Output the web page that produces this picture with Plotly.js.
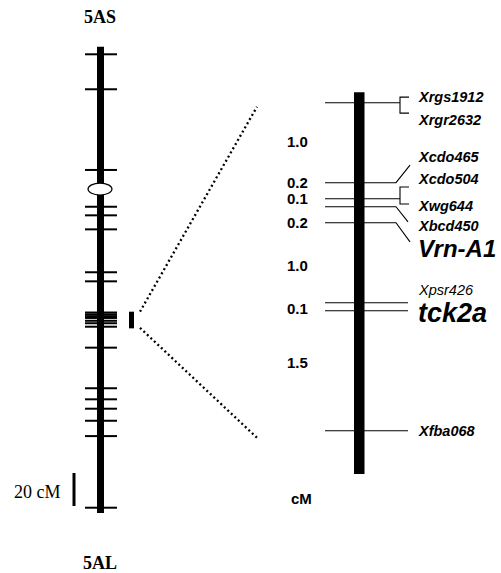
<!DOCTYPE html>
<html><head><meta charset="utf-8">
<script src="https://cdn.plot.ly/plotly-3.0.1.min.js"></script>
<style>html,body{margin:0;padding:0;background:#fff}#chart{width:501px;height:573px}</style>
</head><body><div id="chart"></div>
<script>
// ================= DATA =================
const armLabels = ['5AS', '5AL'];
const leftLength = 282.6;                       // cM, whole 5A map
const leftMarkers = [4.6, 25.8, 74.7, 97.0, 102.2, 110.7, 136.7, 142.2,
  161.1, 162.2, 163.3, 164.4, 166.1, 167.6, 169.7, 182.4,
  207.0, 213.7, 219.4, 226.7, 236.0, 279.4];
const centromere = 86.3;                        // cM
const regionStart = 160.6;                      // cM, enlarged region
const regionEnd = 170.7;
const scaleBarCM = 20;
const scaleBarLabel = '20 cM';

const rightMarkers = ['Xrgs1912', 'Xrgr2632', 'Xcdo465', 'Xcdo504', 'Xwg644',
  'Xbcd450', 'Vrn-A1', 'Xpsr426', 'tck2a', 'Xfba068'];
const rightPos = [0, 0, 1.0, 1.2, 1.2, 1.3, 1.5, 2.5, 2.6, 4.1];   // cM
const intervalLabels = ['1.0', '0.2', '0.1', '0.2', '1.0', '0.1', '1.5'];
const rightStart = -0.13, rightEnd = 4.64;      // cM, drawn extent of bar
const unitLabel = 'cM';

// ================= LAYOUT HELPERS =================
const W = 501, H = 573;
const L0 = 46.7, LS = 1.65;     // left axis: px of 0 cM, px per cM
const R0 = 102.7, RS = 80;      // right axis
const leftRange = [(H - L0) / LS, -L0 / LS];
const rightRange = [(H - R0) / RS, -R0 / RS];
const Lpx = px => (px - L0) / LS;               // pixel -> left axis value
const rightToLeft = r => Lpx(R0 + r * RS);

// label placement (right axis units) and style per marker
const labelY = [-0.07, 0.22, 0.675, 0.95, 1.29, 1.54, 1.82, 2.34, 2.63, 4.1];
const labelSize = [14.5, 14.5, 14.5, 14.5, 14.5, 14.5, 24, 14.5, 27, 14.5];
const labelBold = [1, 1, 1, 1, 1, 1, 1, 0, 1, 1];
const intervalY = [0.48, 1.0, 1.2, 1.5, 2.03, 2.57, 3.25];

// ================= TRACES =================
const lx = [], ly = [];
leftMarkers.forEach(m => { lx.push(85, 117, null); ly.push(m, m, null); });

// right marker lines + connectors
const rx = [], ry = [];
const uniq = [...new Set(rightPos)];
uniq.forEach(p => {
  const idx = rightPos.map((v, i) => v === p ? i : -1).filter(i => i >= 0);
  if (idx.length === 2) {
    const t = p === 0 ? -0.07 : 1.054, bt = p === 0 ? 0.13 : 1.266;
    rx.push(325, 400, null, 409, 400, 400, 409, null);
    ry.push(p, p, null, t, t, bt, bt, null);
  } else {
    const name = rightMarkers[idx[0]];
    if (name === 'Xcdo465') { rx.push(325, 396, 410, null); ry.push(p, p, 0.78, null); }
    else if (name === 'Xbcd450') { rx.push(325, 396, 408, null); ry.push(p, p, 1.49, null); }
    else if (name === 'Vrn-A1') { rx.push(325, 396, 410, null); ry.push(p, p, 1.74, null); }
    else { rx.push(325, 408, null); ry.push(p, p, null); }
  }
});

const dotX = [140, 257, null, 140, 258];
const dotY = [regionStart, rightToLeft(0.05), null, regionEnd - 0.3, rightToLeft(4.2)];

const traces = [
  { x: lx, y: ly, mode: 'lines', line: { color: '#000', width: 2 }, hoverinfo: 'skip', xaxis: 'x', yaxis: 'y' },
  { x: rx, y: ry, mode: 'lines', line: { color: '#000', width: 1.1 }, hoverinfo: 'skip', xaxis: 'x', yaxis: 'y2' },
  { x: dotX, y: dotY, mode: 'lines', line: { color: '#000', width: 2.3, dash: '2px,2.8px' }, hoverinfo: 'skip', xaxis: 'x', yaxis: 'y' }
];

// ================= SHAPES =================
const shapes = [
  { type: 'rect', xref: 'x', yref: 'y', x0: 97, x1: 104, y0: 0, y1: leftLength, fillcolor: '#000', line: { width: 0 } },
  { type: 'circle', xref: 'x', yref: 'y', x0: 88, x1: 112, y0: centromere - 3.6, y1: centromere + 3.6, fillcolor: '#fff', line: { color: '#000', width: 1.2 } },
  { type: 'rect', xref: 'x', yref: 'y', x0: 129, x1: 134, y0: regionStart, y1: regionEnd, fillcolor: '#000', line: { width: 0 } },
  { type: 'rect', xref: 'x', yref: 'y2', x0: 354, x1: 364.5, y0: rightStart, y1: rightEnd, fillcolor: '#000', line: { width: 0 } },
  { type: 'line', xref: 'x', yref: 'y', x0: 74, x1: 74, y0: Lpx(473), y1: Lpx(473) + scaleBarCM, line: { color: '#000', width: 3 } }
];

// ================= ANNOTATIONS =================
const serif = 'Liberation Serif, Times New Roman, serif';
const sans = 'Liberation Sans, Arial, sans-serif';
const ann = [
  { text: armLabels[0], x: 100, y: Lpx(17), xref: 'x', yref: 'y', showarrow: false, font: { family: serif, size: 18, weight: 'bold', color: '#000' } },
  { text: armLabels[1], x: 100, y: Lpx(563), xref: 'x', yref: 'y', showarrow: false, font: { family: serif, size: 18, weight: 'bold', color: '#000' } },
  { text: scaleBarLabel, x: 63, y: Lpx(473) + scaleBarCM / 2, yshift: -2, xref: 'x', yref: 'y', xanchor: 'right', showarrow: false, font: { family: serif, size: 18, color: '#000' } },
  { text: unitLabel, x: 289, y: (498 - R0) / RS, xref: 'x', yref: 'y2', xanchor: 'left', showarrow: false, font: { family: sans, size: 15, weight: 'bold', color: '#000' } }
];
intervalLabels.forEach((t, i) => ann.push({ text: t, x: 285, y: intervalY[i], xref: 'x', yref: 'y2', xanchor: 'left', showarrow: false,
  font: { family: sans, size: 15, weight: 'bold', color: '#000' } }));
rightMarkers.forEach((t, i) => ann.push({ text: t, x: 416, y: labelY[i], xref: 'x', yref: 'y2', xanchor: 'left', showarrow: false,
  font: { family: sans, size: labelSize[i], style: 'italic', weight: labelBold[i] ? 'bold' : 'normal', color: '#000' } }));

const layout = {
  width: W, height: H, autosize: false,
  margin: { l: 0, r: 0, t: 0, b: 0, pad: 0 },
  paper_bgcolor: '#fff', plot_bgcolor: '#fff',
  showlegend: false,
  xaxis: { range: [0, W], visible: false, fixedrange: true, domain: [0, 1] },
  yaxis: { range: leftRange, visible: false, fixedrange: true, domain: [0, 1] },
  yaxis2: { range: rightRange, visible: false, fixedrange: true, overlaying: 'y', anchor: 'x' },
  shapes: shapes,
  annotations: ann
};

Plotly.newPlot('chart', traces, layout, { staticPlot: true, displayModeBar: false });
</script>
</body></html>
